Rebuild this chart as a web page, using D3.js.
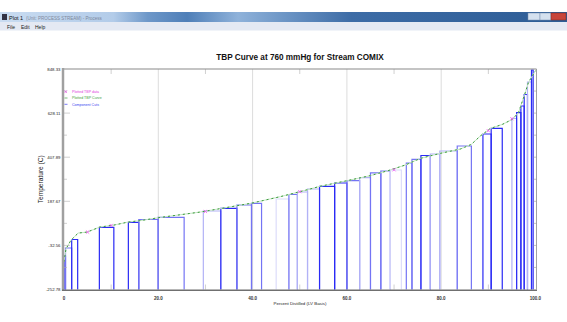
<!DOCTYPE html>
<html><head><meta charset="utf-8">
<script src="https://cdn.jsdelivr.net/npm/d3@7"></script>
<style>
html,body{margin:0;padding:0;background:#fff;overflow:hidden;}
svg{display:block;font-family:"Liberation Sans",Arial,sans-serif;}
</style></head>
<body>
<svg id="c" width="567" height="322"></svg>
<script>
// ---- data ----
const chartTitle = "TBP Curve at 760 mmHg for Stream COMIX";
const xLabel = "Percent Distilled (LV Basis)";
const yLabel = "Temperature (C)";
const xTicks = [0, 20, 40, 60, 80, 100];
const xTickLabels = ["0", "20.0", "40.0", "60.0", "80.0", "100.0"];
const yTicks = [-252.78, -32.56, 187.67, 407.89, 628.11, 848.33];
const yTickLabels = ["-252.78", "-32.56", "187.67", "407.89", "628.11", "848.33"];
const legendLabels = ["Plotted TBP data", "Plotted TBP Curve", "Component Cuts"];

// TBP curve (percent distilled, temperature C)
const curvePct  = [0, 0.42, 1.5, 3.0, 4.9, 7.6, 10.6, 13.6, 16.1, 20.4, 28.9, 33.1, 39.7, 45.9, 50.1, 54.4, 60.1, 65.0, 69.2, 72.4, 75.6, 79.8, 84.1, 86.4, 88.3, 90.4, 93.0, 95.1, 96.4, 97.7, 98.5, 100];
const curveTemp = [-115, -50, -6, 29, 34, 59, 69, 84, 91, 107, 134, 151, 178, 211, 236, 263, 291, 316, 344, 369, 402, 427, 449, 472, 514, 551, 572, 597, 631, 721, 781, 840];

// plotted TBP data points
const dataPct  = [5, 10, 30, 50, 70, 90, 95];
const dataTemp = [34, 67, 137, 236, 345, 540, 600];

// component cuts
const cutStart = [0, 0.32, 1.63, 7.5, 13.65, 15.86, 19.96, 29.55, 33.26, 36.67, 39.77, 45.0, 47.7, 49.5, 51.65, 54.2, 57.4, 60.0, 62.7, 65.0, 67.2, 69.2, 72.6, 73.8, 75.7, 77.7, 79.7, 83.4, 88.85, 90.6, 95.0, 96.0, 96.9, 97.6, 98.3, 99.15];
const cutEnd   = [0.32, 1.63, 2.9, 10.57, 15.86, 19.96, 25.48, 33.26, 36.67, 39.77, 41.9, 47.7, 49.5, 51.65, 54.2, 57.4, 60.0, 62.7, 65.0, 67.2, 69.2, 71.55, 73.8, 75.7, 77.7, 79.7, 83.4, 86.4, 90.6, 92.95, 96.0, 96.9, 97.6, 98.3, 99.15, 99.5];
const cutTemp  = [-85.5, -45.5, -3.1, 57.8, 82.8, 96.8, 107.8, 139.2, 152.7, 169.2, 177.7, 199.2, 221.6, 234.1, 249.1, 262.6, 279.1, 290.5, 305.5, 330, 339, 344, 378.9, 397.4, 416.4, 423.9, 438.9, 463.8, 523.8, 552.2, 601.2, 630.2, 663.6, 721, 783.5, 843.4];
const cutShade = [0, 1, 0, 0, 0, 1, 1, 2, 0, 1, 1, 3, 1, 2, 2, 0, 0, 1, 2, 1, 1, 3, 1, 1, 0, 2, 2, 1, 0, 0, 2, 0, 0, 0, 2, 0];

// ---- drawing ----
const svg = d3.select("#c");
const W = 567, H = 322;

// window chrome
const defs = svg.append("defs");
const g1 = defs.append("linearGradient").attr("id", "tb").attr("x1", 0).attr("x2", 1).attr("y1", 0).attr("y2", 0);
[[0, "#c9dcf1"], [0.2, "#b3cce9"], [0.26, "#6e98c9"], [0.33, "#4f7fb8"], [0.42, "#8fb2da"], [0.5, "#6d96c6"], [0.62, "#3d6ca6"], [1, "#2d5c95"]]
  .forEach(([o, c]) => g1.append("stop").attr("offset", o).attr("stop-color", c));
svg.append("rect").attr("x", 0).attr("y", 12).attr("width", W).attr("height", 10).attr("fill", "url(#tb)");
svg.append("rect").attr("x", 2).attr("y", 14).attr("width", 5).attr("height", 6).attr("fill", "#334");
svg.append("text").attr("x", 9).attr("y", 19.5).attr("font-size", 5.5).attr("fill", "#111").text("Plot 1");
svg.append("text").attr("x", 26).attr("y", 19.5).attr("font-size", 4.5).attr("fill", "#556").attr("opacity", 0.6).text("(Unit: PROCESS STREAM) - Process");
svg.append("rect").attr("x", 528).attr("y", 13).attr("width", 12).attr("height", 7).attr("fill", "#d5e1ef").attr("stroke", "#7890b0").attr("stroke-width", 0.5);
svg.append("rect").attr("x", 540).attr("y", 13).attr("width", 11).attr("height", 7).attr("fill", "#d5e1ef").attr("stroke", "#7890b0").attr("stroke-width", 0.5);
svg.append("rect").attr("x", 551).attr("y", 13).attr("width", 15).attr("height", 7).attr("fill", "#c8453b").attr("stroke", "#7a2a24").attr("stroke-width", 0.5);
svg.append("rect").attr("x", 0).attr("y", 22).attr("width", W).attr("height", 8.5).attr("fill", "#e4e9f3");
["File", "Edit", "Help"].forEach((t, i) => svg.append("text").attr("x", 7 + i * 14).attr("y", 28.5).attr("font-size", 5).attr("fill", "#222").text(t));

const x = d3.scaleLinear().domain([0, 100]).range([64, 535.5]);
const y = d3.scaleLinear().domain([yTicks[0], yTicks[yTicks.length - 1]]).range([289.5, 69]);
const shadeColor = d3.scaleOrdinal().domain([0, 1, 2, 3]).range(["#2b2bf5", "#7474f4", "#b2b2f6", "#dcdcfa"]);

// gridlines at 20,40,60,80
svg.append("g").selectAll("line").data(xTicks.slice(1, -1)).join("line")
  .attr("x1", d => x(d)).attr("x2", d => x(d)).attr("y1", y.range()[1]).attr("y2", y.range()[0])
  .attr("stroke", "#dcdcdc").attr("stroke-width", 1);
// minor ticks at 10,30,...
const minorX = d3.range(10, 100, 20);
svg.append("g").selectAll("line").data(minorX).join("line")
  .attr("x1", d => x(d)).attr("x2", d => x(d)).attr("y1", y.range()[0]).attr("y2", y.range()[0] - 5)
  .attr("stroke", "#d0d0d0");
svg.append("g").selectAll("line").data(minorX).join("line")
  .attr("x1", d => x(d)).attr("x2", d => x(d)).attr("y1", y.range()[1]).attr("y2", y.range()[1] + 5)
  .attr("stroke", "#d0d0d0");

// component cuts
const cuts = cutStart.map((s, i) => ({ s, e: cutEnd[i], t: cutTemp[i], k: cutShade[i] }));
svg.append("g").selectAll("path").data(cuts).join("path")
  .attr("d", d => `M${x(d.s)},${y.range()[0]}V${y(d.t)}H${x(d.e)}V${y.range()[0]}`)
  .attr("fill", "none").attr("stroke", d => shadeColor(d.k)).attr("stroke-width", 1.2);

// TBP curve
const line = d3.line().x(d => x(d[0])).y(d => y(d[1]));
const cpts = curvePct.map((p, i) => [p, curveTemp[i]]);
svg.append("path").attr("d", line(cpts)).attr("fill", "none").attr("stroke", "#c4e6c4").attr("stroke-width", 1);
svg.append("path").attr("d", line(cpts)).attr("fill", "none").attr("stroke", "#3a9a3a").attr("stroke-width", 1).attr("stroke-dasharray", "2,3");

// data points (x markers)
const xm = 1.6;
svg.append("g").selectAll("path").data(dataPct.map((p, i) => [p, dataTemp[i]])).join("path")
  .attr("d", d => { const cx = x(d[0]), cy = y(d[1]); return `M${cx - xm},${cy - xm}L${cx + xm},${cy + xm}M${cx - xm},${cy + xm}L${cx + xm},${cy - xm}`; })
  .attr("stroke", "#f050f0").attr("stroke-width", 0.8).attr("fill", "none");

// frame
svg.append("line").attr("x1", x(0)).attr("x2", x(100) + 1).attr("y1", y.range()[1]).attr("y2", y.range()[1]).attr("stroke", "#8a8a8a").attr("stroke-width", 1.2);
svg.append("line").attr("x1", x(100) + 1).attr("x2", x(100) + 1).attr("y1", y.range()[1]).attr("y2", y.range()[0]).attr("stroke", "#8a8a8a").attr("stroke-width", 0.8);
// right inner ticks (half steps)
const halfTicks = d3.range(0, 11).map(i => yTicks[0] + i * (yTicks[1] - yTicks[0]) / 2);
svg.append("g").selectAll("line").data(halfTicks.slice(1, -1)).join("line")
  .attr("x1", x(100) + 1).attr("x2", x(100) - 2).attr("y1", d => y(d)).attr("y2", d => y(d)).attr("stroke", "#9a9a9a").attr("stroke-width", 0.6);
// left inner ticks
svg.append("g").selectAll("line").data(halfTicks.slice(1, -1)).join("line")
  .attr("x1", x(0)).attr("x2", (d, i) => x(0) + (i % 2 ? 6 : 3)).attr("y1", d => y(d)).attr("y2", d => y(d)).attr("stroke", "#b0b0b0").attr("stroke-width", 0.6);

// axes
svg.append("line").attr("x1", x(0) - 1).attr("x2", x(0) - 1).attr("y1", y.range()[1] - 1).attr("y2", y.range()[0] + 1.5).attr("stroke", "#a0a0a0").attr("stroke-width", 2.5);
svg.append("line").attr("x1", x(0) - 2).attr("x2", x(100) + 1.5).attr("y1", y.range()[0] + 0.8).attr("y2", y.range()[0] + 0.8).attr("stroke", "#707070").attr("stroke-width", 1.6);

// tick labels
svg.append("g").selectAll("text").data(yTicks).join("text")
  .attr("x", x(0) - 3.5).attr("y", d => y(d) + 1.5).attr("text-anchor", "end")
  .attr("font-size", 4.3).attr("fill", "#222").text((d, i) => yTickLabels[i]);
svg.append("g").selectAll("text").data(xTicks).join("text")
  .attr("x", d => x(d)).attr("y", 299.5).attr("text-anchor", "middle")
  .attr("font-size", 4.5).attr("font-weight", "bold").attr("fill", "#333").text((d, i) => xTickLabels[i]);

// axis titles
svg.append("text").attr("x", 300).attr("y", 305).attr("text-anchor", "middle").attr("font-size", 4.4).attr("fill", "#222").text(xLabel);
svg.append("text").attr("transform", `translate(42.5,${(y.range()[0] + y.range()[1]) / 2}) rotate(-90)`).attr("text-anchor", "middle")
  .attr("font-size", 6.6).attr("fill", "#222").text(yLabel);
svg.append("text").attr("x", 300).attr("y", 59.5).attr("text-anchor", "middle").attr("font-size", 8.2).attr("font-weight", "bold").attr("fill", "#111").text(chartTitle);

// legend
const legColors = ["#e040e0", "#40a040", "#4040f0"];
const lg = svg.append("g");
legendLabels.forEach((t, i) => {
  const ly = 91.7 + i * 6.3;
  if (i === 0) lg.append("path").attr("d", `M64.5,${ly - 1.3}L67,${ly + 1.3}M64.5,${ly + 1.3}L67,${ly - 1.3}`).attr("stroke", legColors[i]).attr("stroke-width", 0.6);
  else lg.append("line").attr("x1", 64.5).attr("x2", 67.5).attr("y1", ly).attr("y2", ly).attr("stroke", legColors[i]).attr("stroke-width", 0.7);
  lg.append("text").attr("x", 72).attr("y", ly + 1.2).attr("font-size", 3.6).attr("fill", legColors[i]).text(t);
});
</script>
</body></html>
